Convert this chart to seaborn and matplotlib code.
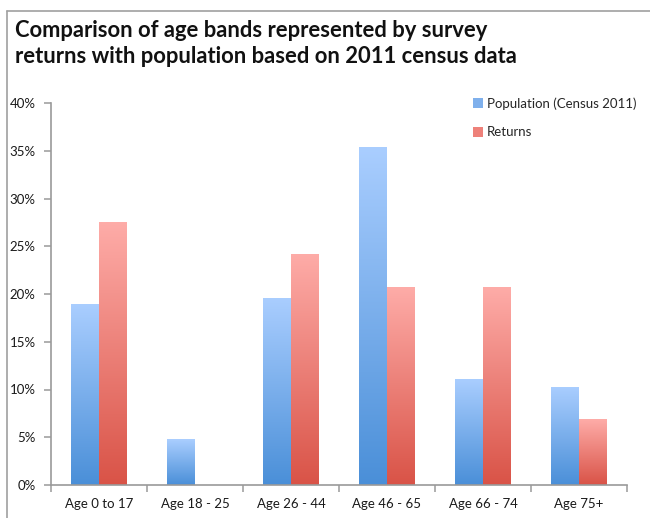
import numpy as np
import pandas as pd
import matplotlib
matplotlib.use("Agg")
import matplotlib.pyplot as plt
import seaborn as sns
from matplotlib.colors import LinearSegmentedColormap
from matplotlib.patches import Patch
from matplotlib.lines import Line2D
from matplotlib.ticker import FuncFormatter, FixedLocator

categories = ["Age 0 to 17", "Age 18 - 25", "Age 26 - 44", "Age 46 - 65", "Age 66 - 74", "Age 75+"]
population = [19.0, 4.8, 19.6, 35.4, 11.1, 10.3]
returns = [27.5, 0.0, 24.2, 20.7, 20.7, 6.9]
series_names = ["Population (Census 2011)", "Returns"]
title_lines = ["Comparison of age bands represented by survey",
               "returns with population based on 2011 census data"]
yticks = [0, 5, 10, 15, 20, 25, 30, 35, 40]

df = pd.DataFrame({
    "category": categories * 2,
    "value": population + returns,
    "series": [series_names[0]] * len(categories) + [series_names[1]] * len(categories),
})

sns.set_theme(style="white")
plt.rcParams["font.family"] = ["Lato", "DejaVu Sans"]

W, H = 650, 518
fig = plt.figure(figsize=(W / 100, H / 100), dpi=100)
fig.patch.set_facecolor("white")
ax = fig.add_axes([51 / W, (H - 485) / H, (627 - 51) / W, (485 - 103) / H])

grads = {
    series_names[0]: ("#4A8FD8", "#AACEFF"),
    series_names[1]: ("#D95347", "#FEACA8"),
}
mids = {series_names[0]: "#7FB0EC", series_names[1]: "#EE817A"}

sns.barplot(data=df, x="category", y="value", hue="series", order=categories,
            hue_order=series_names, palette=mids, width=0.58, dodge=True,
            saturation=1, ax=ax, legend=False, errorbar=None)

ax.set_ylim(0, 40)
ax.set_xlim(-0.5, len(categories) - 0.5)

# gradient fill clipped to each bar
n = len(categories)
for i, p in enumerate(ax.patches[: 2 * n]):
    s = series_names[i // n]
    x0, y0 = p.get_x(), p.get_y()
    w, h = p.get_width(), p.get_height()
    if h <= 0:
        continue
    cmap = LinearSegmentedColormap.from_list("g", list(grads[s]))
    grad = np.linspace(0, 1, 256).reshape(-1, 1)
    im = ax.imshow(grad, cmap=cmap, origin="lower", aspect="auto",
                   extent=[x0, x0 + w, y0, y0 + h], zorder=p.get_zorder() + 0.1)
    im.set_clip_path(p)
    p.set_edgecolor("none")
ax.set_ylim(0, 40)
ax.set_xlim(-0.5, len(categories) - 0.5)

ax.set_xlabel("")
ax.set_ylabel("")
ax.yaxis.set_major_locator(FixedLocator(yticks))
ax.yaxis.set_major_formatter(FuncFormatter(lambda v, _: f"{int(v)}%"))
ax.xaxis.set_minor_locator(FixedLocator(np.arange(-0.5, len(categories), 1.0)))

for side in ["top", "right"]:
    ax.spines[side].set_visible(False)
for side in ["left", "bottom"]:
    ax.spines[side].set_color("#9a9a9a")
    ax.spines[side].set_linewidth(1.2)

ax.tick_params(axis="y", which="major", direction="out", length=5, width=1.1,
               color="#9a9a9a", labelsize=9.5, labelcolor="#1a1a1a", pad=6, left=True)
ax.tick_params(axis="x", which="major", length=0, labelsize=9.5, labelcolor="#1a1a1a", pad=9)
ax.tick_params(axis="x", which="minor", direction="out", length=5, width=1.1,
               color="#9a9a9a", bottom=True)

handles = [Patch(facecolor=mids[s], edgecolor="none") for s in series_names]
fig.legend(handles, series_names, loc="upper left", bbox_to_anchor=(468 / W, 1 - 92 / H),
           frameon=False, fontsize=9.5, handlelength=0.75, handleheight=0.75,
           handletextpad=0.3, labelspacing=1.25, borderaxespad=0)

# title, two lines on reference baselines, fitted to reference width
t1 = fig.text(15 / W, 1 - 37 / H, title_lines[0], ha="left", va="baseline", fontsize=16,
              fontweight="bold", color="#111111")
t2 = fig.text(15 / W, 1 - 63 / H, title_lines[1], ha="left", va="baseline", fontsize=16,
              fontweight="bold", color="#111111")
fig.canvas.draw()
fs = 16 * (503 / t2.get_window_extent().width)
t1.set_fontsize(fs)
t2.set_fontsize(fs)

# partial outer frame (top and left edges)
fig.add_artist(Line2D([7 / W, 7 / W], [0, 1 - 11 / H], transform=fig.transFigure,
                      color="#a0a0a0", lw=1.2))
fig.add_artist(Line2D([7 / W, 1], [1 - 11 / H, 1 - 11 / H], transform=fig.transFigure,
                      color="#a0a0a0", lw=1.2))

fig.savefig("out.png", dpi=100, facecolor="white")
